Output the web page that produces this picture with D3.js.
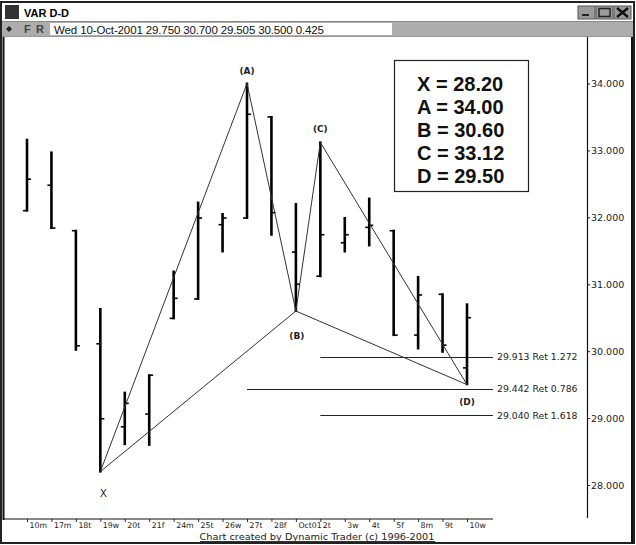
<!DOCTYPE html>
<html><head><meta charset="utf-8">
<script src="https://cdn.jsdelivr.net/npm/d3@7"></script>
<style>body{margin:0;background:#fff}svg{display:block}</style>
</head><body>
<svg id="c" width="636" height="545"></svg>
<script>
// ---- data ----
const dates  = ["10m","17m","18t","19w","20t","21f","24m","25t","26w","27t","28f","Oct01","2t","3w","4t","5f","8m","9t","10w"];
const opens  = [32.10,32.48,31.80,30.11,28.87,29.06,30.49,30.78,31.89,31.99,33.50,31.48,31.12,31.62,31.85,31.80,30.24,30.85,29.75];
const highs  = [33.16,32.97,31.80,30.63,29.38,29.64,31.19,32.22,32.05,34.00,33.50,32.20,33.12,31.99,32.28,31.80,31.11,30.85,30.70];
const lows   = [32.10,31.84,30.02,28.20,28.61,28.60,30.49,30.78,31.49,31.99,31.74,30.60,31.12,31.49,31.58,30.24,30.04,29.99,29.505];
const closes = [32.57,31.84,30.08,28.99,29.22,29.64,30.79,31.99,31.99,33.54,32.07,31.00,31.74,31.74,31.88,30.24,30.84,30.09,30.50];
const yTicks = [28,29,30,31,32,33,34];
const pointNames  = ["X","A","B","C","D"];
const pointDates  = ["19w","27t","Oct01","2t","10w"];
const pointValues = [28.20,34.00,30.60,33.12,29.50];
const retValues = [29.913,29.442,29.040];
const retRatios = ["1.272","0.786","1.618"];
const retStart  = ["2t","27t","2t"];
const headerText = "Wed 10-Oct-2001 29.750 30.700 29.505 30.500 0.425";

const svg = d3.select("#c");
const x = d3.scalePoint().domain(dates).range([27, 467]);
const y = d3.scaleLinear().domain([28, 34]).range([485, 83.5]);

// ---- window chrome ----
svg.append("rect").attr("x",0).attr("y",0).attr("width",636).attr("height",545).attr("fill","#fff");
svg.append("rect").attr("x",1).attr("y",2).attr("width",633).attr("height",541).attr("fill","none").attr("stroke","#222").attr("stroke-width",2);
svg.append("rect").attr("x",5).attr("y",5).attr("width",14).attr("height",14).attr("fill","#333");
svg.append("text").attr("x",24).attr("y",17).attr("font-family","Liberation Sans, Arial").attr("font-weight","bold").attr("font-size",11).text("VAR D-D");
[578,596,614].forEach(bx=>{
  svg.append("rect").attr("x",bx).attr("y",6).attr("width",17).attr("height",13).attr("fill","#9a9a9a").attr("stroke","#555");
});
svg.append("rect").attr("x",582).attr("y",14).attr("width",7).attr("height",2).attr("fill","#222");
svg.append("rect").attr("x",599).attr("y",8.5).attr("width",11).attr("height",8).attr("fill","none").attr("stroke","#222").attr("stroke-width",1.5);
svg.append("path").attr("d","M617,8 L628,17 M628,8 L617,17").attr("stroke","#111").attr("stroke-width",2.5);
// toolbar
svg.append("rect").attr("x",2).attr("y",22).attr("width",631).attr("height",14).attr("fill","#adadad");
svg.append("line").attr("x1",2).attr("x2",633).attr("y1",21.5).attr("y2",21.5).attr("stroke","#888");
svg.append("line").attr("x1",2).attr("x2",633).attr("y1",36.5).attr("y2",36.5).attr("stroke","#999");
svg.append("path").attr("d","M6,29 L9,26 L12,29 L9,32 Z").attr("fill","#222");
svg.append("text").attr("x",24).attr("y",33).attr("font-family","Liberation Sans, Arial").attr("font-weight","bold").attr("font-size",11).attr("fill","#444").text("F");
svg.append("text").attr("x",36).attr("y",33).attr("font-family","Liberation Sans, Arial").attr("font-weight","bold").attr("font-size",11).attr("fill","#444").text("R");
svg.append("rect").attr("x",50).attr("y",23).attr("width",342).attr("height",12).attr("fill","#fff");
svg.append("text").attr("x",54).attr("y",33.5).attr("font-family","Liberation Sans, Arial").attr("font-size",11.5).attr("fill","#111")
  .attr("textLength",270).attr("lengthAdjust","spacing").text(headerText);

// plot frame
svg.append("line").attr("x1",3.5).attr("x2",3.5).attr("y1",37).attr("y2",520).attr("stroke","#111").attr("stroke-width",2);
svg.append("line").attr("x1",632).attr("x2",632).attr("y1",37).attr("y2",543).attr("stroke","#111").attr("stroke-width",2);

// ---- axes ----
const yAxis = svg.append("g").attr("transform","translate(587,0)")
  .call(d3.axisRight(y).tickValues(yTicks).tickSize(3).tickPadding(1).tickFormat(d3.format(".3f")));
yAxis.select(".domain").remove();
yAxis.selectAll("text").attr("font-family","DejaVu Sans, Verdana").attr("font-size",9.5).attr("fill","#222");
yAxis.selectAll("line").attr("stroke","#222");
svg.append("line").attr("x1",587.5).attr("x2",587.5).attr("y1",37).attr("y2",518).attr("stroke","#111").attr("stroke-width",1.2);

const xAxis = svg.append("g").attr("transform","translate(0,519)")
  .call(d3.axisBottom(x).tickSize(3).tickSizeOuter(0));
xAxis.select(".domain").remove();
xAxis.selectAll("line").attr("stroke","#333");
xAxis.selectAll("text").attr("text-anchor","start").attr("x",2).attr("y",3).attr("dy","0.71em")
  .attr("font-family","DejaVu Sans, Verdana").attr("font-size",7.8).attr("fill","#222");
svg.append("line").attr("x1",3).attr("x2",x(dates[dates.length-1])+26).attr("y1",519).attr("y2",519).attr("stroke","#111").attr("stroke-width",1.2);

svg.append("text").attr("x",317).attr("y",539.5).attr("text-anchor","middle")
  .attr("font-family","DejaVu Sans, Verdana").attr("font-size",8.5).attr("fill","#222")
  .attr("textLength",235).attr("lengthAdjust","spacingAndGlyphs")
  .text("Chart created by Dynamic Trader (c) 1996-2001");
svg.append("line").attr("x1",200).attr("x2",435).attr("y1",541.5).attr("y2",541.5).attr("stroke","#333");

// ---- retracement lines ----
const rets = retValues.map((v,i)=>({v, r:retRatios[i], s:retStart[i]}));
const xEnd = x(dates[dates.length-1]) + 26;
svg.append("g").selectAll("line").data(rets).join("line")
  .attr("x1",d=>x(d.s)).attr("x2",xEnd).attr("y1",d=>Math.round(y(d.v))+0.5).attr("y2",d=>Math.round(y(d.v))+0.5)
  .attr("stroke","#222").attr("stroke-width",1);
svg.append("g").selectAll("text").data(rets).join("text")
  .attr("x",xEnd+4).attr("y",d=>y(d.v)).attr("dy","0.35em")
  .attr("font-family","DejaVu Sans, Verdana").attr("font-size",9.3).attr("fill","#222")
  .text(d=>d3.format(".3f")(d.v)+" Ret "+d.r);

// ---- OHLC bars ----
const bars = dates.map((d,i)=>({d,o:opens[i],h:highs[i],l:lows[i],c:closes[i]}));
const bg = svg.append("g");
bg.selectAll("line.hl").data(bars).join("line").attr("class","hl")
  .attr("x1",d=>x(d.d)).attr("x2",d=>x(d.d)).attr("y1",d=>y(d.h)-1).attr("y2",d=>y(d.l)+1)
  .attr("stroke","#000").attr("stroke-width",2.6);
bg.selectAll("line.o").data(bars).join("line").attr("class","o")
  .attr("x1",d=>x(d.d)-4).attr("x2",d=>x(d.d)).attr("y1",d=>y(d.o)).attr("y2",d=>y(d.o))
  .attr("stroke","#000").attr("stroke-width",1.6);
bg.selectAll("line.c").data(bars).join("line").attr("class","c")
  .attr("x1",d=>x(d.d)).attr("x2",d=>x(d.d)+4).attr("y1",d=>y(d.c)).attr("y2",d=>y(d.c))
  .attr("stroke","#000").attr("stroke-width",1.6);

// ---- XABCD pattern ----
const P = pointNames.map((n,i)=>({n, px:x(pointDates[i]), py:y(pointValues[i])}));
const segs = [[0,1],[1,2],[0,2],[2,3],[3,4],[2,4]];
svg.append("g").selectAll("line").data(segs).join("line")
  .attr("x1",s=>P[s[0]].px).attr("y1",s=>P[s[0]].py).attr("x2",s=>P[s[1]].px).attr("y2",s=>P[s[1]].py)
  .attr("stroke","#333").attr("stroke-width",1);
const off = {X:25, A:-10, B:28, C:-10, D:20};
svg.append("g").selectAll("text").data(P).join("text")
  .attr("x",d=>d.px + (d.n==="X"?3:(d.n==="B"?1:0))).attr("y",d=>d.py+off[d.n]).attr("text-anchor","middle")
  .attr("font-family","DejaVu Sans, Verdana").attr("font-size",d=>d.n==="X"?10:9)
  .attr("font-weight",d=>d.n==="X"?"normal":"bold").attr("fill","#222")
  .text(d=>d.n==="X"?"X":"("+d.n+")");

// ---- legend box ----
const lg = svg.append("g");
lg.append("rect").attr("x",394.5).attr("y",60.5).attr("width",134).attr("height",131).attr("fill","#fff").attr("stroke","#222").attr("stroke-width",1.2);
lg.selectAll("text").data(pointNames).join("text")
  .attr("x",417).attr("y",(d,i)=>91+i*23)
  .attr("font-family","Liberation Sans, Arial").attr("font-weight","bold").attr("font-size",20).attr("fill","#111")
  .text((d,i)=>d+" = "+d3.format(".2f")(pointValues[i]));
</script>
</body></html>
